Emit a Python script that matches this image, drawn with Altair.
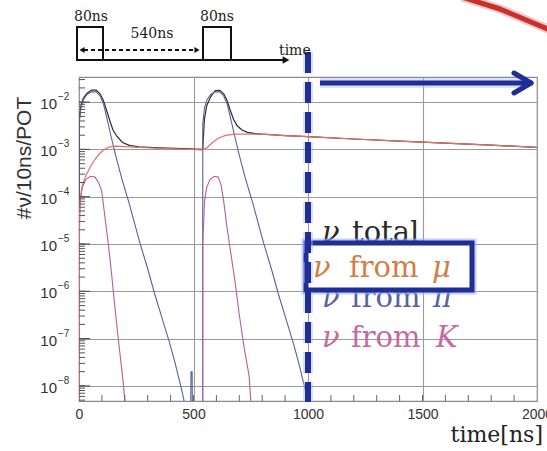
import altair as alt
import pandas as pd

# ---------------------------------------------------------------
# Neutrino time spectrum per 10 ns bin and proton-on-target
# ---------------------------------------------------------------
total_t = [0, 0.5, 8, 18, 35, 55, 75, 92, 106, 120, 135, 148, 165, 190, 220, 260,
           350, 450, 540, 548, 558, 575, 595, 615, 632, 646, 660, 675, 690, 710,
           735, 770, 800, 900, 1000, 1200, 1400, 1600, 1800, 2000]
total_y = [1e-10, 4e-3, 8e-3, 1.2e-2, 1.55e-2, 1.8e-2, 1.8e-2, 1.5e-2, 1.1e-2,
           6.8e-3, 4.0e-3, 2.6e-3, 1.9e-3, 1.4e-3, 1.22e-3, 1.14e-3, 1.08e-3,
           1.04e-3, 1.0e-3, 4.5e-3, 8.5e-3, 1.3e-2, 1.75e-2, 1.78e-2, 1.5e-2,
           1.1e-2, 6.8e-3, 4.3e-3, 3.2e-3, 2.6e-3, 2.3e-3, 2.16e-3, 2.1e-3,
           1.96e-3, 1.86e-3, 1.66e-3, 1.5e-3, 1.36e-3, 1.23e-3, 1.11e-3]

mu_t = [0, 0.5, 6, 15, 30, 50, 70, 90, 110, 130, 160, 200, 260, 350, 450, 540,
        560, 583, 610, 640, 680, 720, 800, 900, 1000, 1200, 1400, 1600, 1800, 2000]
mu_y = [1e-10, 3e-5, 1.0e-4, 1.8e-4, 2.8e-4, 4.3e-4, 6.2e-4, 8.2e-4, 1.0e-3,
        1.12e-3, 1.17e-3, 1.15e-3, 1.1e-3, 1.06e-3, 1.02e-3, 9.8e-4, 1.1e-3,
        1.4e-3, 1.75e-3, 1.98e-3, 2.1e-3, 2.12e-3, 2.1e-3, 1.96e-3, 1.86e-3,
        1.66e-3, 1.5e-3, 1.36e-3, 1.23e-3, 1.11e-3]

pi_t = [0, 0.5, 8, 18, 35, 55, 75, 92, 106, 120, 140, 160, 186, 220, 265, 300,
        330, 365, 396, 420, 440, 452, 460, 470, 486, 489, 494, 497, 540, 540.5,
        548, 558, 575, 595, 615, 632, 646, 660, 680, 700, 726, 760, 805, 840,
        870, 905, 936, 960, 980, 992, 1000, 1010]
pi_y = [1e-10, 3.5e-3, 7.5e-3, 1.1e-2, 1.45e-2, 1.65e-2, 1.65e-2, 1.35e-2, 9.5e-3,
        5e-3, 1.9e-3, 7.5e-4, 2.5e-4, 7e-5, 1.1e-5, 3e-6, 9e-7, 2.5e-7, 8e-8,
        3e-8, 1.2e-8, 7e-9, 4.5e-9, 1e-10, 1e-10, 2e-8, 2e-8, 1e-10, 1e-10,
        3.5e-3, 7.5e-3, 1.1e-2, 1.45e-2, 1.65e-2, 1.65e-2, 1.35e-2, 9.5e-3,
        5e-3, 1.9e-3, 7.5e-4, 2.5e-4, 7e-5, 1.1e-5, 3e-6, 9e-7, 2.5e-7, 8e-8,
        3e-8, 1.2e-8, 7e-9, 4.5e-9, 1e-10]

k_t = [0, 0.5, 5, 15, 30, 50, 70, 85, 99, 110, 128, 140, 157, 175, 193, 200, 205,
       540, 540.5, 548, 558, 572, 590, 608, 620, 632, 645, 657, 680, 700, 720,
       743, 750, 755]
k_y = [1e-10, 1e-5, 8e-5, 1.6e-4, 2.3e-4, 2.7e-4, 2.6e-4, 2e-4, 1.35e-4, 5e-5,
       1e-5, 3e-6, 4.5e-7, 7e-8, 1.2e-8, 5e-9, 1e-10, 1e-10, 1e-5, 8e-5, 1.6e-4,
       2.3e-4, 2.7e-4, 2.6e-4, 1.8e-4, 8e-5, 2.5e-5, 1e-5, 1.8e-6, 3.2e-7, 7e-8,
       1.6e-8, 5e-9, 1e-10]

x_ticks = [0, 500, 1000, 1500, 2000]
y_decades = [-8, -7, -6, -5, -4, -3, -2]

# ---------------------------------------------------------------
W, H = 458, 324            # plot area
OX, OY = 79, 77            # plot origin on the page
X_DOM = [0, 2000]
Y_DOM = [4.8e-9, 3.4e-2]

xs = alt.Scale(domain=X_DOM, nice=False, zero=False)
ys = alt.Scale(type="log", domain=Y_DOM, nice=False)

BLUE = "#1f2d96"
one = pd.DataFrame({"k": [0]})


def px(x):
    return alt.value(x - OX)


def py(y):
    return alt.value(y - OY)


def seg(x1, y1, x2, y2, **kw):
    return alt.Chart(one).mark_rule(**kw).encode(
        x=px(x1), y=py(y1), x2=px(x2), y2=py(y2))


def series(name, t, y):
    return pd.DataFrame({"series": name, "t": t, "y": y, "i": range(len(t))})


def curve(df, color, width=1.1):
    return alt.Chart(df).mark_line(
        color=color, strokeWidth=width, clip=True, interpolate="linear"
    ).encode(
        x=alt.X("t:Q", scale=xs,
                axis=alt.Axis(values=x_ticks, format="d", grid=True, ticks=False,
                              domain=False, labelFlush=False, labelPadding=6,
                              labelFontSize=14, labelColor="#333",
                              labelFont="Liberation Sans",
                              gridColor="#9a9a9a", gridWidth=1.1, title=None)),
        y=alt.Y("y:Q", scale=ys,
                axis=alt.Axis(values=[10.0 ** e for e in y_decades], grid=True,
                              ticks=False, domain=False, labels=False,
                              gridColor="#9a9a9a", gridWidth=1.1, title=None)),
        order="i:Q",
    )


lines = [
    curve(series("total", total_t, total_y), "#2b2b2b", 1.2),
    curve(series("pi", pi_t, pi_y), "#55639e"),
    curve(series("K", k_t, k_y), "#b85d98"),
    curve(series("mu", mu_t, mu_y), "#e2706a", 1.2),
]

# ticks drawn inward on the bottom and left frame
xt = pd.DataFrame({"t": [v for v in range(100, 2000, 100)]})
x_tick_marks = alt.Chart(xt).mark_rule(color="#666", strokeWidth=1).encode(
    x=alt.X("t:Q", scale=xs), y=alt.value(H - 6), y2=alt.value(H))

yt_vals = [m * 10.0 ** e for e in range(-9, -1) for m in range(1, 10)]
yt = pd.DataFrame({"v": [v for v in yt_vals if Y_DOM[0] <= v <= Y_DOM[1]]})
y_tick_marks = alt.Chart(yt).mark_rule(color="#555", strokeWidth=1).encode(
    y=alt.Y("v:Q", scale=ys), x=alt.value(0), x2=alt.value(6))
y_major = alt.Chart(pd.DataFrame({"v": [10.0 ** e for e in y_decades]})).mark_rule(
    color="#555", strokeWidth=1.2).encode(
    y=alt.Y("v:Q", scale=ys), x=alt.value(0), x2=alt.value(11))

# y tick labels as 10 with a raised exponent
lab = pd.DataFrame({"v": [10.0 ** e for e in y_decades],
                    "e": [f"\u2212{abs(e)}" for e in y_decades]})
y_lab10 = alt.Chart(lab).mark_text(
    align="right", baseline="middle", font="Liberation Sans", fontSize=15,
    color="#333", dy=2).encode(y=alt.Y("v:Q", scale=ys), x=alt.value(-22),
                               text=alt.value("10"))
y_labexp = alt.Chart(lab).mark_text(
    align="left", baseline="middle", font="Liberation Sans", fontSize=10,
    color="#333", dy=-5).encode(y=alt.Y("v:Q", scale=ys), x=alt.value(-21),
                                text="e:N")

y_title = alt.Chart(one).mark_text(
    angle=270, font="Liberation Sans", fontSize=21, color="#333",
    align="center", baseline="middle").encode(
    x=px(25), y=py(158), text=alt.value("#\u03bd/10ns/POT"))

x_title = alt.Chart(one).mark_text(
    align="right", baseline="alphabetic", font="DejaVu Serif", fontSize=22,
    color="#222").encode(x=px(543), y=py(442), text=alt.value("time[ns]"))

# legend text
SERIF = "DejaVu Serif"


def legend_row(y, word, sym, color, nu_x, word_x, sym_x):
    parts = [
        alt.Chart(one).mark_text(align="left", font=SERIF, fontSize=29,
                                 fontStyle="italic", color=color).encode(
            x=px(nu_x), y=py(y), text=alt.value("\u03bd")),
        alt.Chart(one).mark_text(align="left", font=SERIF, fontSize=29,
                                 color=color).encode(
            x=px(word_x), y=py(y), text=alt.value(word)),
    ]
    if sym:
        parts.append(alt.Chart(one).mark_text(align="left", font=SERIF, fontSize=29,
                                              fontStyle="italic", color=color).encode(
            x=px(sym_x), y=py(y), text=alt.value(sym)))
    return parts


leg_pi = legend_row(298, "from", "\u03c0", "#56649c", 322, 351, 433)
leg_total = legend_row(233, "total", None, "#2a2a2a", 322, 352, 0)
leg_k = legend_row(338, "from", "K", "#c46aa0", 322, 351, 436)
leg_mu = legend_row(268, "from", "\u03bc", "#cf7f45", 313, 349, 432)

# blue highlight box around the muon entry
box_glow = alt.Chart(one).mark_rect(fill="white", stroke="#9fb0ff", strokeWidth=9,
                                    opacity=0.6).encode(
    x=px(306), x2=px(472), y=py(243), y2=py(290))
box = alt.Chart(one).mark_rect(fill="white", stroke=BLUE, strokeWidth=5).encode(
    x=px(306), x2=px(472), y=py(243), y2=py(290))

# dashed marker at t = 1000 ns
dash_glow = alt.Chart(one).mark_rule(color="#aab8ff", strokeWidth=10, opacity=0.45,
                                     strokeDash=[21, 9], strokeDashOffset=-9).encode(
    x=alt.X(datum=1000, scale=xs), y=py(43), y2=py(402))
dash = alt.Chart(one).mark_rule(color=BLUE, strokeWidth=6,
                                strokeDash=[21, 9], strokeDashOffset=-9).encode(
    x=alt.X(datum=1000, scale=xs), y=py(43), y2=py(402))

# arrow pointing to later times
arrow = [
    seg(320, 83, 529, 83, color="#b0bfff", strokeWidth=10, opacity=0.45),
    seg(320, 83, 529, 83, color=BLUE, strokeWidth=5),
    seg(514, 73, 531, 83, color=BLUE, strokeWidth=5, strokeCap="round"),
    seg(514, 93, 531, 83, color=BLUE, strokeWidth=5, strokeCap="round"),
]

# red stroke in the upper right corner
red_arc = [
    seg(462, -3, 500, 9, color="#e8a0a0", strokeWidth=9, opacity=0.6),
    seg(500, 9, 550, 30, color="#e8a0a0", strokeWidth=9, opacity=0.6),
    seg(462, -3, 500, 9, color="#c7302c", strokeWidth=5, strokeCap="round"),
    seg(500, 9, 550, 30, color="#c7302c", strokeWidth=5, strokeCap="round"),
]

# beam timing sketch above the plot
sk = dict(color="#111", strokeWidth=2)
sketch = [
    alt.Chart(one).mark_rect(fill=None, stroke="#111", strokeWidth=2).encode(
        x=px(77), x2=px(103), y=py(27), y2=py(60)),
    alt.Chart(one).mark_rect(fill=None, stroke="#111", strokeWidth=2).encode(
        x=px(203), x2=px(231), y=py(27), y2=py(60)),
    seg(77, 60, 284, 60, **sk),
    alt.Chart(one).mark_point(shape="triangle-right", filled=True, color="#111",
                              size=60, opacity=1).encode(x=px(286), y=py(60)),
    seg(84, 50, 194, 50, color="#111", strokeWidth=2, strokeDash=[4, 3]),
    alt.Chart(one).mark_point(shape="triangle-left", filled=True, color="#111",
                              size=35, opacity=1).encode(x=px(82), y=py(50)),
    alt.Chart(one).mark_point(shape="triangle-right", filled=True, color="#111",
                              size=35, opacity=1).encode(x=px(197), y=py(50)),
    alt.Chart(one).mark_text(font=SERIF, fontSize=14, color="#222",
                             baseline="alphabetic").encode(
        x=px(91), y=py(21), text=alt.value("80ns")),
    alt.Chart(one).mark_text(font=SERIF, fontSize=14, color="#222",
                             baseline="alphabetic").encode(
        x=px(217), y=py(21), text=alt.value("80ns")),
    alt.Chart(one).mark_text(font=SERIF, fontSize=14, color="#222",
                             baseline="alphabetic").encode(
        x=px(152), y=py(38), text=alt.value("540ns")),
    alt.Chart(one).mark_text(font=SERIF, fontSize=14, color="#222", align="left",
                             baseline="alphabetic").encode(
        x=px(279), y=py(55), text=alt.value("time")),
]

layers = (lines + [x_tick_marks, y_tick_marks, y_major, y_lab10, y_labexp,
                   y_title, x_title]
          + leg_total + leg_pi + leg_k + [box_glow, box] + leg_mu
          + [dash_glow, dash] + arrow + red_arc + sketch)

chart = alt.layer(*layers).properties(
    width=W, height=H,
    autosize=alt.AutoSizeParams(type="none"),
    padding={"left": OX, "top": OY, "right": 547 - OX - W, "bottom": 451 - OY - H},
    background="white",
).configure_view(stroke="#8a8a8a", strokeWidth=1.2)

chart.save("out.html", embed_options={"renderer": "svg", "actions": False})
